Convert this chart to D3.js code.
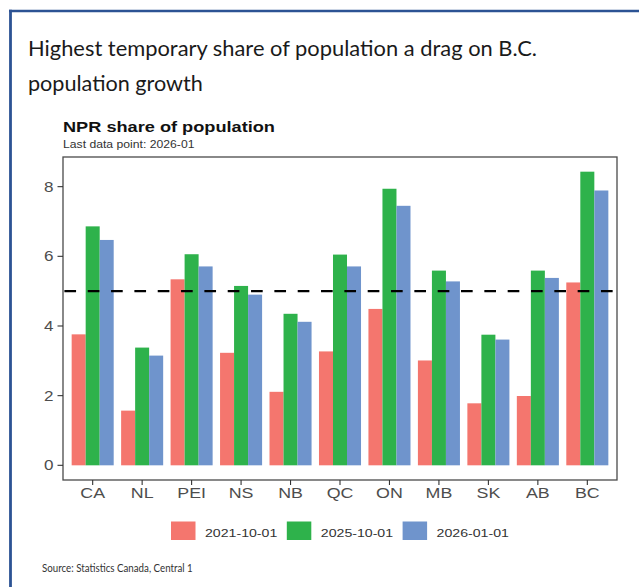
<!DOCTYPE html>
<html>
<head>
<meta charset="utf-8">
<script src="https://cdn.jsdelivr.net/npm/d3@7/dist/d3.min.js"></script>
<style>
  html, body { margin: 0; padding: 0; background: #fff; }
  svg { display: block; }
</style>
</head>
<body>
<svg id="chart" width="639" height="587"></svg>
<script>
// Non-permanent residents as a share of population, by province (%)
const categories = ["CA", "NL", "PEI", "NS", "NB", "QC", "ON", "MB", "SK", "AB", "BC"];
const seriesNames = ["2021-10-01", "2025-10-01", "2026-01-01"];
const share2021 = [3.76, 1.57, 5.34, 3.23, 2.11, 3.27, 4.49, 3.01, 1.78, 1.99, 5.25];
const share2025 = [6.86, 3.38, 6.06, 5.15, 4.35, 6.05, 7.94, 5.59, 3.75, 5.59, 8.43];
const share2026 = [6.47, 3.15, 5.71, 4.90, 4.12, 5.71, 7.45, 5.28, 3.61, 5.38, 7.89];
const yTicks = [0, 2, 4, 6, 8];
const referenceLevel = 5;

const seriesValues = [share2021, share2025, share2026];
const colors = ["#F4766E", "#2EB24B", "#6F94CC"];

const rows = categories.map((c, i) => ({
  category: c,
  values: seriesNames.map((s, j) => ({ series: s, value: seriesValues[j][i] }))
}));

const svg = d3.select("#chart");

// Page frame
svg.append("line").attr("x1", 9).attr("x2", 639).attr("y1", 11).attr("y2", 11)
  .attr("stroke", "#2C5394").attr("stroke-width", 2.6);
svg.append("line").attr("x1", 10.5).attr("x2", 10.5).attr("y1", 9.7).attr("y2", 587)
  .attr("stroke", "#2C5394").attr("stroke-width", 2.8);

// Horizontally fit a text element to a given width
function fitWidth(sel, x, y, width) {
  sel.attr("x", 0).attr("y", 0);
  const w = sel.node().getComputedTextLength();
  sel.attr("transform", `translate(${x},${y}) scale(${width / w},1)`);
}
// Text with a fixed horizontal stretch (chart text is set slightly wide)
const STRETCH = 1.22;
function stretchedText(g, x, y, txt) {
  return g.append("text").attr("x", 0).attr("y", 0)
    .attr("transform", `translate(${x},${y}) scale(${STRETCH},1)`)
    .text(txt);
}

// Headline
const headFont = "Lato, 'Open Sans', sans-serif";
fitWidth(svg.append("text").attr("font-family", headFont).attr("font-size", 22)
  .attr("fill", "#1a1a1a").text("Highest temporary share of population a drag on B.C."), 28, 56, 509);
fitWidth(svg.append("text").attr("font-family", headFont).attr("font-size", 22)
  .attr("fill", "#1a1a1a").text("population growth"), 28, 91, 175);

// Source note
fitWidth(svg.append("text").attr("font-family", headFont).attr("font-size", 11.5)
  .attr("fill", "#333").text("Source: Statistics Canada, Central 1"), 42, 572, 151);

// Chart
const chartFont = "'Liberation Sans', Arial, sans-serif";
const panel = { left: 63, right: 617, top: 157, bottom: 480 };

const g = svg.append("g").attr("font-family", chartFont);

stretchedText(g, 63, 131.7, "NPR share of population")
  .attr("font-size", 14.9).attr("font-weight", "bold").attr("fill", "#111");
stretchedText(g, 63, 147.5, "Last data point: 2026-01")
  .attr("font-size", 10).attr("fill", "#333");

const maxVal = d3.max(seriesValues.flat());
const y = d3.scaleLinear()
  .domain([-0.05 * maxVal, maxVal * 1.05])
  .range([panel.bottom, panel.top]);

const x = d3.scaleBand()
  .domain(categories)
  .range([panel.left, panel.right])
  .paddingInner(0.15)
  .paddingOuter(0.175);

const xs = d3.scaleBand()
  .domain(seriesNames)
  .range([0, x.bandwidth()]);

const color = d3.scaleOrdinal().domain(seriesNames).range(colors);

// Bars
g.append("g").selectAll("g")
  .data(rows)
  .join("g")
  .attr("transform", d => `translate(${x(d.category)},0)`)
  .selectAll("rect")
  .data(d => d.values)
  .join("rect")
  .attr("x", d => xs(d.series))
  .attr("width", xs.bandwidth())
  .attr("y", d => y(d.value))
  .attr("height", d => y(0) - y(d.value))
  .attr("fill", d => color(d.series));

// Reference line at 5%
const period = 23.33;
g.append("line")
  .attr("x1", panel.left).attr("x2", panel.right)
  .attr("y1", y(referenceLevel)).attr("y2", y(referenceLevel))
  .attr("stroke", "#000").attr("stroke-width", 2.1)
  .attr("stroke-dasharray", `${period / 2},${period / 2}`)
  .attr("stroke-dashoffset", period - 1.4);

// Panel border
g.append("rect")
  .attr("x", panel.left).attr("y", panel.top)
  .attr("width", panel.right - panel.left).attr("height", panel.bottom - panel.top)
  .attr("fill", "none").attr("stroke", "#4a4a4a").attr("stroke-width", 1.3);

// Y axis
const yAxis = g.append("g");
yAxis.selectAll("line").data(yTicks).join("line")
  .attr("x1", panel.left - 5.5).attr("x2", panel.left)
  .attr("y1", d => y(d)).attr("y2", d => y(d))
  .attr("stroke", "#333").attr("stroke-width", 1.1);
yAxis.selectAll("text").data(yTicks).join("text")
  .attr("x", 0).attr("y", 0)
  .attr("transform", d => `translate(53.5,${y(d) + 5})  scale(${STRETCH},1)`)
  .attr("text-anchor", "end").attr("font-size", 14).attr("fill", "#4D4D4D")
  .text(d => d);

// X axis
const xAxis = g.append("g");
xAxis.selectAll("line").data(categories).join("line")
  .attr("x1", d => x(d) + x.bandwidth() / 2).attr("x2", d => x(d) + x.bandwidth() / 2)
  .attr("y1", panel.bottom).attr("y2", panel.bottom + 5)
  .attr("stroke", "#333").attr("stroke-width", 1.1);
xAxis.selectAll("text").data(categories).join("text")
  .attr("x", 0).attr("y", 0)
  .attr("transform", d => `translate(${x(d) + x.bandwidth() / 2},498.3) scale(${STRETCH},1)`)
  .attr("text-anchor", "middle").attr("font-size", 14.6).attr("fill", "#4D4D4D")
  .text(d => d);

// Legend
const legend = g.append("g").selectAll("g")
  .data(seriesNames)
  .join("g")
  .attr("transform", (d, i) => `translate(${171 + i * 115.8},0)`);
legend.append("rect")
  .attr("x", 0).attr("y", 521.5).attr("width", 24.5).attr("height", 18.5)
  .attr("fill", d => color(d));
legend.append("text")
  .attr("x", 0).attr("y", 0)
  .attr("transform", `translate(34,536.6) scale(${STRETCH},1)`)
  .attr("font-size", 11.6).attr("fill", "#333")
  .text(d => d);
</script>
</body>
</html>
